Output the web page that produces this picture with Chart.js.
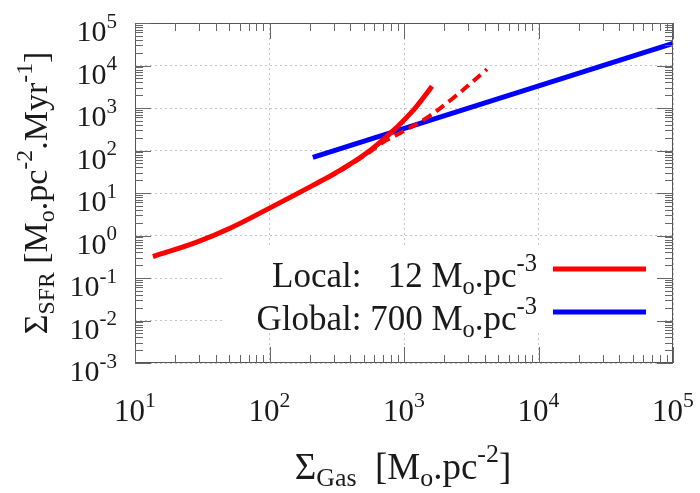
<!DOCTYPE html>
<html>
<head>
<meta charset="utf-8">
<script src="https://cdn.jsdelivr.net/npm/chart.js@4.4.1/dist/chart.umd.min.js"></script>
<style>
  html, body { margin: 0; padding: 0; background: #fff; }
  canvas { display: block; }
</style>
</head>
<body>
<canvas id="ksChart" width="700" height="493"></canvas>
<script>
// gas surface density [Mo/pc^2] vs SFR surface density [Mo/pc^2/Myr]
const localGas = [13.6, 28.8, 50.8, 100, 210, 334, 531, 828, 1167, 1384, 1615];
const localSfr = [0.32, 0.70, 1.48, 4.4, 15.1, 34, 88, 290, 870, 1700, 3236];

const localFitGas = [210, 334, 531, 698, 933, 1483, 2312, 4140];
const localFitSfr = [15, 33, 83, 155, 255, 595, 1700, 8130];

const globalGas = [210, 100000];
const globalSfr = [69, 33000];

const xTicks = [1e1, 1e2, 1e3, 1e4, 1e5];
const yTicks = [1e-3, 1e-2, 1e-1, 1e0, 1e1, 1e2, 1e3, 1e4, 1e5];

const FONT = "'Liberation Serif', 'DejaVu Serif', serif";
const INK = "#1a1a1a";

function toPoints(xs, ys) {
  return xs.map((x, i) => ({ x: x, y: ys[i] }));
}

// draw text made of [string, mode] parts, mode 0 normal, 1 subscript, 2 superscript
function drawRich(ctx, parts, x, y, size, align) {
  const widths = parts.map(([t, m]) => {
    ctx.font = (m ? size * 0.7 : size) + "px " + FONT;
    return ctx.measureText(t).width;
  });
  const total = widths.reduce((a, b) => a + b, 0);
  let cx = align === "right" ? x - total : align === "center" ? x - total / 2 : x;
  ctx.textAlign = "left";
  ctx.textBaseline = "alphabetic";
  parts.forEach(([t, m], i) => {
    ctx.font = (m ? size * 0.7 : size) + "px " + FONT;
    const dy = m === 1 ? size * 0.2 : m === 2 ? -size * 0.45 : 0;
    ctx.fillText(t, cx, y + dy);
    cx += widths[i];
  });
}

function expLabel(v) {
  return [["10", 0], [String(Math.round(Math.log10(v))), 2]];
}

function minorValues(min, max) {
  const out = [];
  for (let k = Math.floor(Math.log10(min)); k < Math.log10(max); k++) {
    for (let m = 2; m <= 9; m++) out.push(m * Math.pow(10, k));
  }
  return out;
}

const gnuplotFrame = {
  id: "gnuplotFrame",
  beforeDatasetsDraw(chart) {
    // key box hides the grid behind it
    const ctx = chart.ctx;
    ctx.save();
    ctx.fillStyle = "#fff";
    ctx.fillRect(223, 246, 442, 87);
    ctx.restore();
  },
  afterDatasetsDraw(chart) {
    const ctx = chart.ctx;
    const a = chart.chartArea;
    const xs = chart.scales.x;
    const ys = chart.scales.y;
    ctx.save();

    // border
    ctx.strokeStyle = "#555";
    ctx.lineWidth = 1;
    ctx.strokeRect(a.left + 0.5, a.top + 0.5, a.right - a.left - 1, a.bottom - a.top - 1);

    // inward ticks on all four sides
    ctx.strokeStyle = "#666";
    ctx.beginPath();
    const tickX = (v, len) => {
      const p = Math.round(xs.getPixelForValue(v)) + 0.5;
      ctx.moveTo(p, a.bottom); ctx.lineTo(p, a.bottom - len);
      ctx.moveTo(p, a.top); ctx.lineTo(p, a.top + len);
    };
    const tickY = (v, len) => {
      const p = Math.round(ys.getPixelForValue(v)) + 0.5;
      ctx.moveTo(a.left, p); ctx.lineTo(a.left + len, p);
      ctx.moveTo(a.right, p); ctx.lineTo(a.right - len, p);
    };
    xTicks.forEach(v => tickX(v, 16));
    yTicks.forEach(v => tickY(v, 16));
    minorValues(xs.min, xs.max).forEach(v => tickX(v, 8));
    minorValues(ys.min, ys.max).forEach(v => tickY(v, 8));
    ctx.stroke();

    ctx.fillStyle = INK;
    // tick labels
    xTicks.forEach(v => drawRich(ctx, expLabel(v), xs.getPixelForValue(v), a.bottom + 58, 31, "center"));
    yTicks.forEach(v => drawRich(ctx, expLabel(v), 117, ys.getPixelForValue(v) + 18, 30, "right"));

    // axis titles
    drawRich(ctx, [["\u03A3", 0], ["Gas", 1], ["  [M", 0], ["o", 1], [".pc", 0], ["-2", 2], ["]", 0]],
      (a.left + a.right) / 2 - 1, 479, 37, "center");
    ctx.save();
    ctx.translate(47, (a.top + a.bottom) / 2);
    ctx.rotate(-Math.PI / 2);
    drawRich(ctx, [["\u03A3", 0], ["SFR", 1], [" [M", 0], ["o", 1], [".pc", 0], ["-2", 2], [".Myr", 0], ["-1", 2], ["]", 0]],
      0, 0, 34, "center");
    ctx.restore();

    // key
    const keys = [
      { parts: [["Local:   12 M", 0], ["o", 1], [".pc", 0], ["-3", 2]], color: "#ff0000", y: 287 },
      { parts: [["Global: 700 M", 0], ["o", 1], [".pc", 0], ["-3", 2]], color: "#0000ff", y: 330 }
    ];
    keys.forEach(k => {
      ctx.fillStyle = INK;
      drawRich(ctx, k.parts, 537, k.y, 35, "right");
      ctx.strokeStyle = k.color;
      ctx.lineWidth = 5;
      ctx.beginPath();
      ctx.moveTo(553, k.y - 18);
      ctx.lineTo(646, k.y - 18);
      ctx.stroke();
    });
    ctx.restore();
  }
};

const gridStyle = {
  display: true,
  drawTicks: false,
  color: "#c4c4c4",
  lineWidth: 1
};

new Chart(document.getElementById("ksChart"), {
  type: "line",
  data: {
    datasets: [
      {
        label: "Local fit",
        data: toPoints(localFitGas, localFitSfr),
        borderColor: "#ff0000",
        borderWidth: 4,
        borderDash: [10, 6],
        pointRadius: 0,
        fill: false,
        tension: 0.4
      },
      {
        label: "Local",
        data: toPoints(localGas, localSfr),
        borderColor: "#ff0000",
        borderWidth: 5,
        pointRadius: 0,
        fill: false,
        tension: 0.4
      },
      {
        label: "Global",
        data: toPoints(globalGas, globalSfr),
        borderColor: "#0000ff",
        borderWidth: 5,
        pointRadius: 0,
        fill: false
      }
    ]
  },
  options: {
    responsive: false,
    animation: false,
    devicePixelRatio: 1,
    layout: { padding: { left: 135, top: 23, right: 27, bottom: 130 } },
    plugins: { legend: { display: false }, tooltip: { enabled: false } },
    scales: {
      x: {
        type: "logarithmic",
        min: 10,
        max: 100000,
        afterBuildTicks: s => { s.ticks = xTicks.map(v => ({ value: v, major: true })); },
        ticks: { display: false },
        grid: gridStyle,
        border: { display: false, dash: [2, 3] }
      },
      y: {
        type: "logarithmic",
        min: 0.001,
        max: 100000,
        afterBuildTicks: s => { s.ticks = yTicks.map(v => ({ value: v, major: true })); },
        ticks: { display: false },
        grid: gridStyle,
        border: { display: false, dash: [2, 3] }
      }
    }
  },
  plugins: [gnuplotFrame]
});
</script>
</body>
</html>
